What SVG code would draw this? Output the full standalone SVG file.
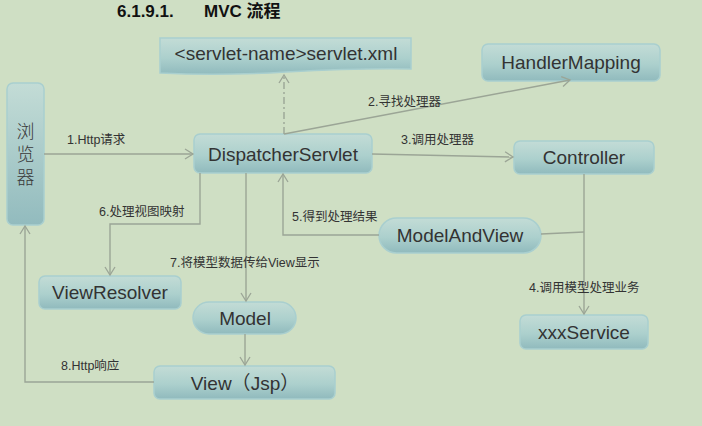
<svg xmlns="http://www.w3.org/2000/svg" width="702" height="426" viewBox="0 0 702 426">
<defs>
<linearGradient id="g" x1="0" y1="0" x2="0" y2="1">
<stop offset="0" stop-color="#c3dcd6"/>
<stop offset="0.55" stop-color="#acd0cd"/>
<stop offset="1" stop-color="#90babd"/>
</linearGradient>
<linearGradient id="gv" x1="0" y1="0" x2="0" y2="1">
<stop offset="0" stop-color="#c3dcd6"/>
<stop offset="1" stop-color="#92bbbe"/>
</linearGradient>
<marker id="ar" markerWidth="12" markerHeight="12" refX="10" refY="6" orient="auto" markerUnits="userSpaceOnUse">
<path d="M2,1 L10,6 L2,11" fill="none" stroke="#9ba596" stroke-width="1.3"/>
</marker>
</defs>
<style>
.n{fill:url(#g);stroke:#a9cfcf;stroke-width:1.5}
.t{font-family:"Liberation Sans",Arial,sans-serif;font-size:19px;fill:#333;text-anchor:middle}
.l{font-family:"Liberation Sans","Noto Sans CJK SC",sans-serif;font-size:12.5px;fill:#333}
.c{fill:none;stroke:#9ba596;stroke-width:1.4}
</style>
<rect width="702" height="426" fill="#cfdfc4"/>
<text x="117" y="17" font-family="'Liberation Sans','Noto Sans CJK SC',sans-serif" font-size="17" font-weight="bold" fill="#111">6.1.9.1.<tspan x="204">MVC 流程</tspan></text>

<g id="servlet-xml">
<path class="n" d="M160,38 L411,38 L411,69 Q360,68 286,72 Q220,76 160,73 Z"/>
<text class="t" x="286" y="60">&lt;servlet-name&gt;servlet.xml</text>
</g>
<g id="handler-mapping">
<rect class="n" x="482" y="44" width="178" height="37" rx="6"/>
<text class="t" x="571" y="69">HandlerMapping</text>
</g>
<g id="browser">
<rect class="n" x="7" y="83" width="37" height="142" rx="6" style="fill:url(#gv)"/>
<text x="25.5" y="122" writing-mode="tb" letter-spacing="5" font-family="'Noto Sans CJK SC',sans-serif" font-size="18" font-weight="300" fill="#3a3a3a">浏览器</text>
</g>
<g id="dispatcher-servlet">
<rect class="n" x="194" y="134" width="178" height="39" rx="6"/>
<text class="t" x="283" y="161">DispatcherServlet</text>
</g>
<g id="controller">
<rect class="n" x="514" y="141" width="140" height="33" rx="6"/>
<text class="t" x="584" y="164">Controller</text>
</g>
<g id="model-and-view">
<rect class="n" x="379" y="218" width="162" height="35" rx="17.5"/>
<text class="t" x="460" y="242">ModelAndView</text>
</g>
<g id="view-resolver">
<rect class="n" x="39" y="276" width="142" height="33" rx="6"/>
<text class="t" x="110" y="299">ViewResolver</text>
</g>
<g id="model">
<rect class="n" x="193" y="302" width="103" height="32" rx="16"/>
<text class="t" x="245" y="325">Model</text>
</g>
<g id="xxx-service">
<rect class="n" x="520" y="315" width="128" height="34" rx="6"/>
<text class="t" x="584" y="339">xxxService</text>
</g>
<g id="view-jsp">
<rect class="n" x="154" y="366" width="181" height="33" rx="6"/>
<text class="t" x="245" y="390">View<tspan font-family="'Noto Sans CJK SC',sans-serif">（</tspan>Jsp<tspan font-family="'Noto Sans CJK SC',sans-serif">）</tspan></text>
</g>

<g id="connectors">
<path class="c" d="M44,154 L193,154" marker-end="url(#ar)"/>
<path class="c" d="M284,134 L284,75" stroke-dasharray="7,3,2,3" marker-end="url(#ar)"/>
<path class="c" d="M284,134 L570,80" marker-end="url(#ar)"/>
<path class="c" d="M372,154 L513,157" marker-end="url(#ar)"/>
<path class="c" d="M584,174 L584,314" marker-end="url(#ar)"/>
<path class="c" d="M584,232 L541,234"/>
<path class="c" d="M379,235 L283,235 L283,174" marker-end="url(#ar)"/>
<path class="c" d="M200,173 L200,224 L110,224 L110,275" marker-end="url(#ar)"/>
<path class="c" d="M246,173 L246,301" marker-end="url(#ar)"/>
<path class="c" d="M245,334 L245,365" marker-end="url(#ar)"/>
<path class="c" d="M154,382 L25,382 L25,226" marker-end="url(#ar)"/>
<text class="l" x="67" y="144">1.Http请求</text>
<text class="l" x="368" y="106">2.寻找处理器</text>
<text class="l" x="401" y="144">3.调用处理器</text>
<text class="l" x="529" y="292">4.调用模型处理业务</text>
<text class="l" x="292" y="221">5.得到处理结果</text>
<text class="l" x="99" y="216">6.处理视图映射</text>
<text class="l" x="170" y="267">7.将模型数据传给View显示</text>
<text class="l" x="61" y="370">8.Http响应</text>
</g>
</svg>
